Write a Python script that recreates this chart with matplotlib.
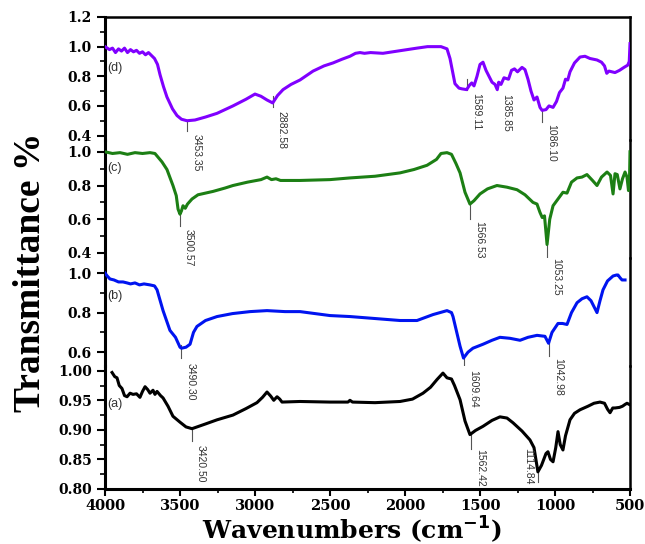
import numpy as np
import matplotlib
matplotlib.use("Agg")
import matplotlib.pyplot as plt
from matplotlib.ticker import MultipleLocator, FormatStrFormatter

# -- sample (d)
wn_d = [4000, 3970, 3950, 3930, 3910, 3890, 3870, 3850, 3830, 3810, 3790, 3770, 3750, 3730,
        3710, 3690, 3670, 3650, 3633, 3610, 3587, 3550, 3520, 3490, 3453, 3400, 3330, 3253,
        3147, 3060, 3000, 2960, 2920, 2882, 2850, 2813, 2760, 2700, 2613, 2540, 2480, 2420,
        2367, 2330, 2300, 2270, 2230, 2147, 2050, 1920, 1850, 1760, 1720, 1700, 1667, 1640,
        1620, 1589, 1570, 1555, 1540, 1520, 1500, 1480, 1460, 1440, 1420, 1400, 1385, 1375,
        1360, 1340, 1310, 1290, 1270, 1250, 1220, 1200, 1180, 1160, 1140, 1120, 1100, 1086,
        1060, 1040, 1013, 990, 970, 947, 930, 915, 900, 870, 833, 800, 767, 720, 690, 670,
        655, 640, 600, 570, 540, 515, 505, 500]
tr_d = [1.00, 0.98, 0.99, 0.96, 0.985, 0.97, 0.99, 0.96, 0.98, 0.965, 0.975, 0.955, 0.965, 0.945,
        0.96, 0.94, 0.92, 0.88, 0.81, 0.73, 0.66, 0.58, 0.535, 0.51, 0.50, 0.505, 0.525, 0.55,
        0.60, 0.645, 0.68, 0.665, 0.64, 0.62, 0.67, 0.71, 0.745, 0.775, 0.835, 0.87, 0.89, 0.915,
        0.935, 0.955, 0.96, 0.955, 0.96, 0.955, 0.97, 0.99, 1.0, 1.0, 0.985, 0.92, 0.75, 0.72,
        0.715, 0.71, 0.74, 0.755, 0.735, 0.80, 0.88, 0.895, 0.84, 0.80, 0.76, 0.745, 0.71, 0.76,
        0.745, 0.79, 0.78, 0.84, 0.85, 0.83, 0.86, 0.845, 0.78, 0.70, 0.64, 0.66, 0.59, 0.57,
        0.575, 0.60, 0.59, 0.63, 0.69, 0.72, 0.78, 0.775, 0.83, 0.89, 0.93, 0.935, 0.92, 0.91, 0.895, 0.87,
        0.82, 0.835, 0.825, 0.84, 0.86, 0.875, 0.90, 1.02]

# -- sample (c)
wn_c = [4000, 3950, 3900, 3850, 3800, 3750, 3700, 3667, 3620, 3587, 3547, 3525, 3513, 3500,
        3490, 3480, 3465, 3450, 3420, 3380, 3330, 3280, 3200, 3147, 3050, 2960, 2920, 2890,
        2860, 2830, 2700, 2500, 2367, 2200, 2033, 1940, 1853, 1790, 1760, 1720, 1690, 1660,
        1633, 1600, 1567, 1540, 1500, 1450, 1387, 1320, 1253, 1200, 1147, 1120, 1100, 1085,
        1070, 1053, 1035, 1013, 980, 947, 920, 890, 853, 820, 787, 750, 720, 690, 653, 630,
        613, 600, 585, 567, 550, 533, 520, 510, 503, 500]
tr_c = [1.0, 0.99, 0.995, 0.985, 0.995, 0.99, 0.995, 0.99, 0.94, 0.895, 0.80, 0.74, 0.66, 0.63,
        0.65, 0.68, 0.665, 0.69, 0.72, 0.745, 0.755, 0.765, 0.785, 0.80, 0.82, 0.835, 0.85, 0.835,
        0.84, 0.83, 0.83, 0.835, 0.845, 0.855, 0.875, 0.895, 0.92, 0.955, 0.99, 0.995, 0.985, 0.93,
        0.875, 0.76, 0.69, 0.71, 0.75, 0.78, 0.80, 0.79, 0.775, 0.745, 0.70, 0.69, 0.64, 0.61,
        0.62, 0.45, 0.60, 0.68, 0.72, 0.76, 0.755, 0.82, 0.845, 0.85, 0.865, 0.83, 0.80, 0.85, 0.88, 0.86,
        0.75, 0.87, 0.865, 0.78, 0.84, 0.88, 0.85, 0.77, 0.85, 1.0]

# -- sample (b)
wn_b = [4000, 3985, 3967, 3940, 3910, 3880, 3853, 3830, 3800, 3770, 3740, 3700, 3670, 3653,
        3613, 3590, 3567, 3530, 3500, 3490, 3460, 3433, 3410, 3387, 3330, 3253, 3150, 3033,
        2920, 2800, 2700, 2500, 2367, 2200, 2033, 1920, 1813, 1720, 1690, 1680, 1633, 1610,
        1580, 1547, 1480, 1420, 1367, 1300, 1233, 1180, 1120, 1067, 1043, 1020, 980, 950, 920,
        890, 853, 820, 787, 760, 720, 700, 680, 650, 613, 590, 580, 565, 553, 533]
tr_b = [1.0, 0.985, 0.97, 0.965, 0.955, 0.955, 0.95, 0.945, 0.95, 0.94, 0.945, 0.94, 0.935, 0.915,
        0.81, 0.76, 0.71, 0.675, 0.625, 0.62, 0.625, 0.64, 0.70, 0.73, 0.76, 0.78, 0.795, 0.805,
        0.81, 0.805, 0.805, 0.785, 0.78, 0.77, 0.76, 0.76, 0.79, 0.81, 0.80, 0.78, 0.63, 0.57,
        0.60, 0.62, 0.64, 0.66, 0.675, 0.67, 0.66, 0.675, 0.685, 0.68, 0.645, 0.70, 0.745, 0.745, 0.74,
        0.80, 0.85, 0.87, 0.88, 0.86, 0.80, 0.86, 0.915, 0.96, 0.985, 0.99, 0.99, 0.975, 0.965, 0.965]

# -- sample (a)
wn_a = [3953, 3935, 3920, 3905, 3887, 3870, 3853, 3833, 3813, 3790, 3767, 3750, 3733, 3715,
        3700, 3680, 3667, 3653, 3630, 3613, 3580, 3547, 3500, 3460, 3420, 3330, 3253, 3147,
        3060, 2987, 2950, 2920, 2895, 2875, 2853, 2835, 2820, 2700, 2500, 2380, 2367, 2350,
        2200, 2033, 1950, 1880, 1830, 1787, 1747, 1720, 1690, 1670, 1633, 1600, 1567, 1530,
        1480, 1420, 1367, 1320, 1280, 1220, 1167, 1140, 1114, 1090, 1060, 1047, 1030, 1013,
        995, 980, 965, 947, 930, 900, 870, 833, 780, 740, 700, 670, 650, 633, 615, 600, 570,
        550, 533, 520, 505]
tr_a = [0.997, 0.99, 0.988, 0.975, 0.97, 0.958, 0.956, 0.962, 0.96, 0.961, 0.955, 0.965, 0.973, 0.968,
        0.962, 0.967, 0.96, 0.965, 0.958, 0.954, 0.94, 0.923, 0.913, 0.905, 0.902, 0.91, 0.917, 0.925,
        0.936, 0.946, 0.955, 0.964, 0.957, 0.95, 0.956, 0.952, 0.947, 0.948, 0.947, 0.947, 0.95, 0.947,
        0.946, 0.948, 0.952, 0.962, 0.972, 0.985, 0.996, 0.988, 0.986, 0.975, 0.951, 0.915, 0.892, 0.899,
        0.906, 0.916, 0.922, 0.92, 0.912, 0.898, 0.883, 0.87, 0.829, 0.84, 0.86, 0.863, 0.85, 0.846,
        0.87, 0.897, 0.875, 0.866, 0.89, 0.917, 0.928, 0.934, 0.94, 0.945, 0.947, 0.945, 0.935, 0.929, 0.937, 0.937, 0.938,
        0.94, 0.943, 0.945, 0.943]

# peak labels: (wavenumber, line top, line bottom, text top, side)
peaks_d = [(3453.35, 0.504, 0.43, 0.41, 1), (2882.58, 0.666, 0.592, 0.565, 1),
           (1589.11, 0.78, 0.707, 0.686, 1), (1385.85, 0.76, 0.707, 0.68, 1),
           (1086.10, 0.565, 0.49, 0.477, 1)]
peaks_c = [(3500.57, 0.64, 0.56, 0.54, 1), (1566.53, 0.69, 0.60, 0.59, 1),
           (1053.25, 0.45, 0.376, 0.37, 1)]
peaks_b = [(3490.30, 0.635, 0.57, 0.545, 1), (1609.64, 0.57, 0.49, 0.51, 1),
           (1042.98, 0.65, 0.58, 0.57, 1)]
peaks_a = [(3420.50, 0.903, 0.881, 0.875, 1), (1562.42, 0.891, 0.868, 0.867, 1),
           (1114.84, 0.829, 0.812, 0.869, -1)]

panels = [
    # name, wn, tr, color, ylim, major, minor, fmt, label y, peaks, bottom, top (px)
    ("(d)", wn_d, tr_d, "#8000ff", (0.37, 1.2), 0.2, 0.1, "%.1f", 0.855, peaks_d, 140, 17),
    ("(c)", wn_c, tr_c, "#1c7f14", (0.37, 1.07), 0.2, 0.1, "%.1f", 0.906, peaks_c, 258, 140),
    ("(b)", wn_b, tr_b, "#0014f0", (0.53, 1.076), 0.2, 0.1, "%.1f", 0.883, peaks_b, 366, 258),
    ("(a)", wn_a, tr_a, "black", (0.80, 1.008), 0.05, 0.025, "%.2f", 0.944, peaks_a, 489, 366),
]

W, H = 645, 544
fig = plt.figure(figsize=(W / 100, H / 100), dpi=100)
left, right = 105 / W, 630 / W
tick_font = dict(family="DejaVu Serif", weight="bold", size=10)

for i, (name, wn, tr, col, ylim, maj, mnr, fmt, ly, peaks, pb, pt) in enumerate(panels):
    ax = fig.add_axes([left, 1 - pb / H, right - left, (pb - pt) / H])
    ax.patch.set_alpha(0)
    ax.plot(wn, tr, color=col, lw=2.2, zorder=3)
    ax.set_xlim(4000, 500)
    ax.set_ylim(*ylim)
    ax.yaxis.set_major_locator(MultipleLocator(maj))
    ax.yaxis.set_minor_locator(MultipleLocator(mnr))
    ax.yaxis.set_major_formatter(FormatStrFormatter(fmt))
    ax.tick_params(axis="y", which="major", direction="out", length=6, width=1.5)
    ax.tick_params(axis="y", which="minor", direction="out", length=3.5, width=1.2)
    for lab in ax.get_yticklabels():
        lab.set_fontproperties(tick_font)
    ax.spines["left"].set_linewidth(2.2)
    ax.spines["right"].set_linewidth(1.8)
    ax.spines["top"].set_visible(i == 0)
    ax.spines["top"].set_linewidth(1.8)
    ax.spines["bottom"].set_visible(i == 3)
    ax.spines["bottom"].set_linewidth(2.2)
    if i == 3:
        ax.xaxis.set_major_locator(MultipleLocator(500))
        ax.xaxis.set_minor_locator(MultipleLocator(250))
        ax.tick_params(axis="x", which="major", direction="out", length=5, width=1.5, pad=2)
        ax.tick_params(axis="x", which="minor", direction="out", length=3, width=1.2)
        for lab in ax.get_xticklabels():
            lab.set_fontproperties(dict(family="DejaVu Serif", weight="bold", size=10.5))
    else:
        ax.tick_params(axis="x", which="both", bottom=False, labelbottom=False)

    ax.text(3985, ly, name, fontsize=9, color="#333333", family="Liberation Sans",
            ha="left", va="center")
    for (p, y0, y1, yt, side) in peaks:
        ax.plot([p, p], [y0, y1], color="#555555", lw=0.8, zorder=2)
        ax.annotate("%.2f" % p, xy=(p, yt), xytext=(3 * side, 0), textcoords="offset points",
                    rotation=270, ha="left" if side > 0 else "right", va="top",
                    fontsize=7.5, color="#333333", family="Liberation Sans",
                    annotation_clip=False)

fig.text(0.047, 0.5, "Transmittance %", rotation=90, ha="center", va="center",
         family="Liberation Serif", weight="bold", fontsize=27)
fig.text(0.545, 1 - 539 / H, "Wavenumbers (cm$^{\\mathbf{-1}}$)", ha="center", va="baseline",
         family="DejaVu Serif", weight="bold", fontsize=18)

plt.savefig("out.png", dpi=100)
